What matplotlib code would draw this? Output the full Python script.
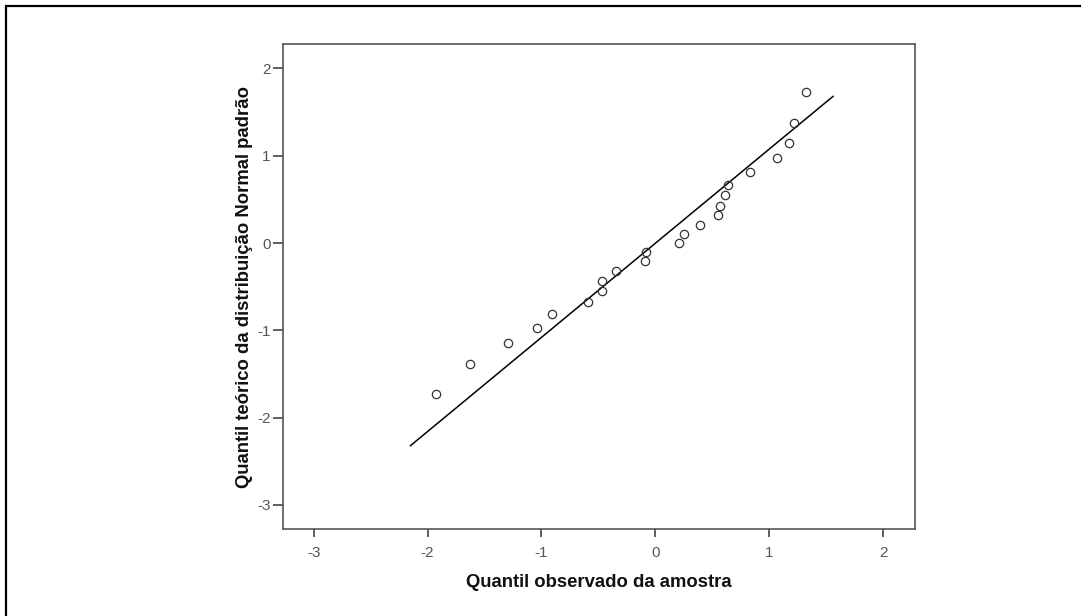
import matplotlib.pyplot as plt
from matplotlib.patches import Rectangle

plt.rcParams['font.family'] = ['Liberation Sans', 'DejaVu Sans']

# observed sample quantiles vs expected standard normal quantiles
observed = [-1.93, -1.63, -1.29, -1.04, -0.91, -0.59, -0.47, -0.47, -0.35,
            -0.09, -0.08, 0.21, 0.25, 0.39, 0.55, 0.57, 0.61, 0.64, 0.83,
            1.07, 1.17, 1.22, 1.32]
expected = [-1.73, -1.38, -1.15, -0.97, -0.81, -0.67, -0.55, -0.43, -0.32,
            -0.21, -0.10, 0.00, 0.10, 0.21, 0.32, 0.43, 0.55, 0.67, 0.81,
            0.97, 1.15, 1.38, 1.73]

# reference line
line_x = [-2.15, 1.56]
line_y = [-2.32, 1.68]

ticks = [-3, -2, -1, 0, 1, 2]

fig = plt.figure(figsize=(10.81, 6.16), dpi=100)

# outer frame around the figure
frame = Rectangle((5.5 / 1081, -0.1), 1.2, 1.1 - 5.5 / 616,
                  transform=fig.transFigure, fill=False,
                  edgecolor='black', linewidth=1.6)
fig.patches.append(frame)

ax = fig.add_axes([283 / 1081, 1 - 529 / 616, 632 / 1081, 485 / 616])

ax.plot(line_x, line_y, color='black', linewidth=1.1)
ax.plot(observed, expected, linestyle='none', marker='o', markersize=6,
        markerfacecolor='none', markeredgecolor='#333333', markeredgewidth=0.9)

ax.set_xlim(-3.27, 2.28)
ax.set_ylim(-3.275, 2.28)
ax.set_xticks(ticks)
ax.set_yticks(ticks)
ax.set_xticklabels([str(t) for t in ticks])
ax.set_yticklabels([str(t) for t in ticks])

for s in ax.spines.values():
    s.set_color('#555555')
    s.set_linewidth(1.2)

ax.tick_params(direction='out', width=1.2, color='#444444',
               labelcolor='#555555', labelsize=11)
ax.tick_params(axis='x', length=6, pad=6)
ax.tick_params(axis='y', length=7, pad=2)

ax.set_xlabel('Quantil observado da amostra', fontsize=13.3, fontweight='bold',
              color='#111111', labelpad=10)
ax.set_ylabel('Quantil teórico da distribuição Normal padrão', fontsize=13.3,
              fontweight='bold', color='#111111', labelpad=3)

fig.savefig('out.png', dpi=100)
